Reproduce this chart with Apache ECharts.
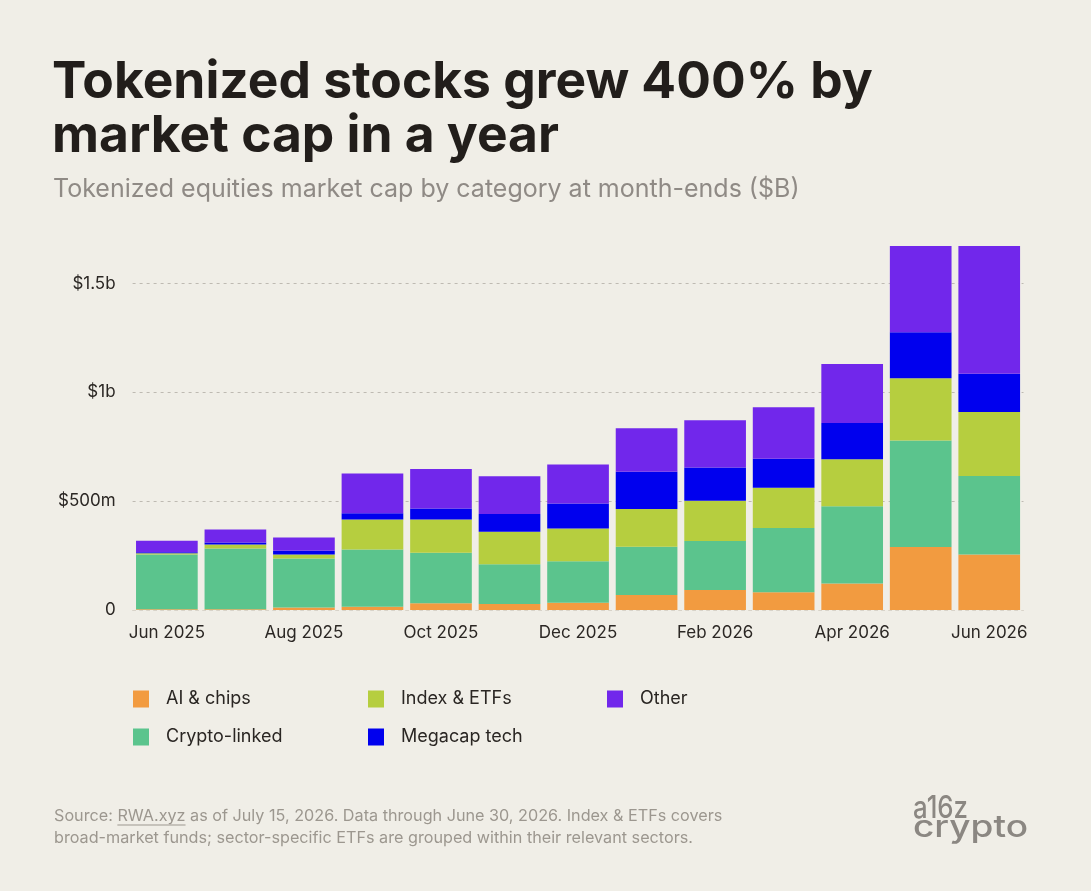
<!DOCTYPE html>
<html><head><meta charset="utf-8">
<script src="https://cdn.jsdelivr.net/npm/echarts@6/dist/echarts.min.js"></script>
<style>html,body{margin:0;padding:0;background:#F0EEE7;} #chart{width:1091px;height:891px;}</style>
</head><body><div id="chart"></div>
<script>
// ---- data (values in $ millions) ----
const categories = ['Jun 2025','Jul 2025','Aug 2025','Sep 2025','Oct 2025','Nov 2025','Dec 2025','Jan 2026','Feb 2026','Mar 2026','Apr 2026','May 2026','Jun 2026'];
const xTickLabels = ['Jun 2025','Aug 2025','Oct 2025','Dec 2025','Feb 2026','Apr 2026','Jun 2026'];
const aiChips      = [3, 3, 12, 15, 31, 28, 33, 69, 92, 81, 122, 290, 255];
const cryptoLinked = [252, 280, 225, 263, 232, 182, 191, 222, 225, 296, 355, 489, 361];
const indexEtfs    = [6, 18, 18, 138, 153, 150, 150, 173, 185, 185, 216, 286, 294];
const megacapTech  = [4, 9, 17, 28, 50, 81, 115, 171, 153, 133, 166, 211, 176];
const other        = [53, 60, 61, 183, 182, 174, 179, 200, 217, 236, 271, 396, 587];
const yTickValues  = [0, 500, 1000, 1500];
const yTickLabels  = ['0', '$500m', '$1b', '$1.5b'];
const seriesNames  = ['AI & chips', 'Crypto-linked', 'Index & ETFs', 'Megacap tech', 'Other'];

const titleLines = ['Tokenized stocks grew 400% by', 'market cap in a year'];
const subtitle = 'Tokenized equities market cap by category at month-ends ($B)';
const sourcePre = 'Source: ';
const sourceLink = 'RWA.xyz';
const sourcePost = ' as of July 15, 2026. Data through June 30, 2026. Index & ETFs covers';
const sourceLine2 = 'broad-market funds; sector-specific ETFs are grouped within their relevant sectors.';

// ---- styling ----
const BG = '#F0EEE7';
const colors = ['#F29B40', '#5BC48D', '#B6CE3F', '#0000EE', '#7127EB'];
const FONT = 'Inter, "Noto Sans", sans-serif';
const footFont = '16.2px Inter';
const canvas = document.createElement('canvas');
const ctx = canvas.getContext('2d');
function tw(t, f){ ctx.font = f; return ctx.measureText(t).width; }

const chart = echarts.init(document.getElementById('chart'), null, {renderer: 'canvas'});
const seriesData = [aiChips, cryptoLinked, indexEtfs, megacapTech, other];

const legendPos = [
  {name: 'AI & chips', left: 133, top: 690},
  {name: 'Index & ETFs', left: 368, top: 690},
  {name: 'Other', left: 607, top: 690},
  {name: 'Crypto-linked', left: 133, top: 728},
  {name: 'Megacap tech', left: 368, top: 728}
];

const srcX = 54;
const preW = tw(sourcePre, footFont);
const linkW = tw(sourceLink, footFont);

const logoFont = '500 31px Inter';
const a16zW = tw('a16z', logoFont);
const cryptoW = tw('crypto', logoFont);

const option = {
  backgroundColor: BG,
  animation: false,
  textStyle: {fontFamily: FONT},
  grid: {left: 132.6, right: 67.5, top: 240, bottom: 281, containLabel: false, outerBoundsMode: 'none'},
  legend: legendPos.map(p => ({
    data: [p.name], left: p.left, top: p.top, selectedMode: false,
    icon: 'rect', itemWidth: 16, itemHeight: 17, padding: 0,
    textStyle: {fontSize: 18, color: '#2A2623', fontFamily: FONT, padding: [0, 0, 0, 12]}
  })),
  xAxis: {
    type: 'category', data: categories, z: 5,
    axisTick: {show: false},
    axisLine: {show: true, lineStyle: {color: '#D8D3C9', type: [3, 4], width: 1}},
    axisLabel: {
      interval: (i, v) => xTickLabels.indexOf(v) >= 0,
      fontSize: 17, color: '#2B2724', margin: 14, fontFamily: FONT
    }
  },
  yAxis: {
    type: 'value', min: 0, max: 1700, interval: 500,
    axisLine: {show: false}, axisTick: {show: false},
    splitLine: {show: true, showMaxLine: false, showMinLine: false, lineStyle: {color: '#BEBAB2', type: [3, 4], width: 1}},
    axisLabel: {
      showMaxLabel: false, fontSize: 17, color: '#2B2724', margin: 17, fontFamily: FONT,
      formatter: v => { const i = yTickValues.indexOf(v); return i >= 0 ? yTickLabels[i] : ''; }
    }
  },
  series: seriesNames.map((n, i) => ({
    name: n, type: 'bar', stack: 'total', data: seriesData[i],
    barCategoryGap: '10%',
    itemStyle: {color: colors[i]},
    emphasis: {disabled: true}
  })),
  graphic: [
    {type: 'text', x: 52, y: 82.7, style: {text: titleLines[0], font: '700 51.5px Inter', fill: '#221E1B', textVerticalAlign: 'middle'}},
    {type: 'text', x: 52, y: 136.1, style: {text: titleLines[1], font: '700 51.5px Inter', fill: '#221E1B', textVerticalAlign: 'middle'}},
    {type: 'text', x: 53, y: 189.5, style: {text: subtitle, font: '400 25px Inter', fill: '#8F8A85', textVerticalAlign: 'middle'}},
    {type: 'text', x: srcX, y: 816.3, style: {text: sourcePre, font: footFont, fill: '#9C978F', textVerticalAlign: 'middle'}},
    {type: 'text', x: srcX + preW, y: 816.3, style: {text: sourceLink, font: footFont, fill: '#9C978F', textVerticalAlign: 'middle'}},
    {type: 'line', shape: {x1: srcX + preW, y1: 825, x2: srcX + preW + linkW, y2: 825}, style: {stroke: '#9C978F', lineWidth: 1}},
    {type: 'text', x: srcX + preW + linkW, y: 816.3, style: {text: sourcePost, font: footFont, fill: '#9C978F', textVerticalAlign: 'middle'}},
    {type: 'text', x: srcX, y: 838.3, style: {text: sourceLine2, font: footFont, fill: '#9C978F', textVerticalAlign: 'middle'}},
    {type: 'text', x: 913, y: 808.5, scaleX: 55 / a16zW, style: {text: 'a16z', font: logoFont, fill: '#8B8782', textVerticalAlign: 'middle'}},
    {type: 'text', x: 913, y: 828, scaleX: 115 / cryptoW, style: {text: 'crypto', font: logoFont, fill: '#8B8782', textVerticalAlign: 'middle'}}
  ]
};
chart.setOption(option);
</script>
</body></html>
